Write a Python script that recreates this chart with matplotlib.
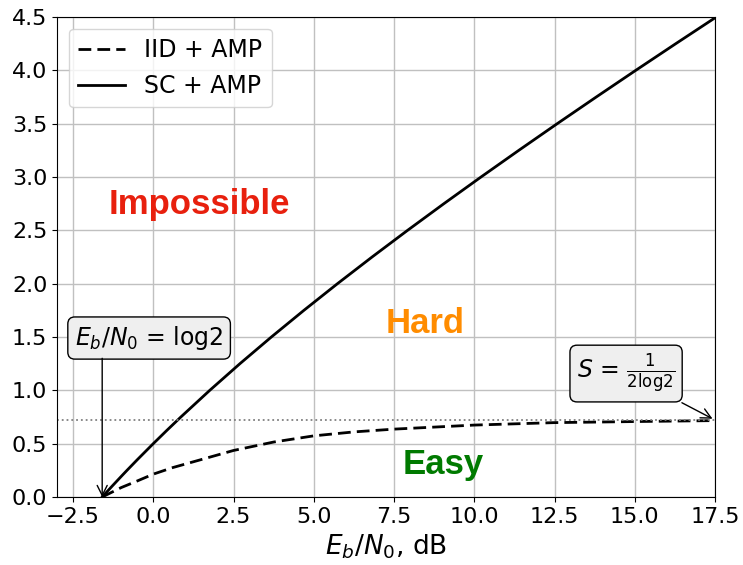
import numpy as np
import matplotlib
matplotlib.use('Agg')
import matplotlib.pyplot as plt

##############################################################################
# DATA
# SC + AMP threshold: spectral efficiency vs Eb/N0 (dB)
ebn0_sc = [-1.59, -1.562, -1.287, -0.976, -0.818, -0.496, 0.0, 0.425, 0.860,
           1.761, 2.701, 3.680, 4.694, 5.740, 6.818, 7.924, 9.056, 10.212,
           11.390, 12.587, 13.803, 15.034, 16.281, 17.542]
s_sc = [0.0, 0.01, 0.1, 0.2, 0.25, 0.35, 0.5, 0.625, 0.75,
        1.0, 1.25, 1.5, 1.75, 2.0, 2.25, 2.5, 2.75, 3.0,
        3.25, 3.5, 3.75, 4.0, 4.25, 4.5]

# IID + AMP threshold
ebn0_iid = [-1.59, -1.0, -0.5, 0.0, 0.6, 1.25, 2.5, 3.75, 5.0, 6.25, 7.5,
            10.0, 12.5, 15.0, 17.5]
s_iid = [0.0, 0.088, 0.15, 0.214, 0.275, 0.33, 0.436, 0.515, 0.573, 0.61, 0.636,
         0.674, 0.697, 0.707, 0.716]

# asymptotes
s_limit = 1/(2*np.log(2))
ebn0_limit = 10*np.log10(np.log(2))

xticks = [-2.5, 0.0, 2.5, 5.0, 7.5, 10.0, 12.5, 15.0, 17.5]
yticks = [0.0, 0.5, 1.0, 1.5, 2.0, 2.5, 3.0, 3.5, 4.0, 4.5]

##############################################################################
# PLOT
plt.rcParams.update({'font.size': 16})
fig = plt.figure(figsize=(7.43, 5.65), dpi=100)
ax = fig.add_axes([0.0767, 0.1204, 0.8856, 0.8496])
ax.set_axisbelow(True)
ax.grid(True, color='#c0c0c0', linewidth=1.0)

ax.plot(ebn0_iid, s_iid, color='k', linestyle=(0, (4.6, 2.2)), linewidth=2,
        label='IID + AMP')
ax.plot(ebn0_sc, s_sc, 'k-', linewidth=2, label='SC + AMP')
ax.axhline(s_limit, color='gray', linestyle=':', linewidth=1.3)

ax.set_xlim([-3.0, 17.5])
ax.set_ylim([0, 4.5])
ax.set_xticks(xticks)
ax.set_yticks(yticks)
ax.tick_params(axis='both', which='major', labelsize=16)
ax.set_xlabel('$E_b/N_0$, dB', fontsize=19)
ax.legend(loc='upper left', fontsize=17)

# regions
region_font = dict(family='Liberation Sans', fontweight='bold', fontsize=25,
                   ha='center', va='center')
ax.text(1.45, 2.74, 'Impossible', color='#e8200e', **region_font)
ax.text(8.46, 1.63, 'Hard', color='#ff8c00', **region_font)
ax.text(9.02, 0.30, 'Easy', color='#007a00', **region_font)

box = dict(boxstyle='round,pad=0.3', facecolor='#efefef', edgecolor='black')
ax.text(-0.13, 1.49, '$E_b/N_0$ = log2', ha='center', va='center',
        fontsize=17, bbox=box)
ax.annotate('', xy=(ebn0_limit, 0), xytext=(ebn0_limit, 1.30),
            arrowprops=dict(arrowstyle='->', color='black', shrinkA=0,
                            shrinkB=0, mutation_scale=18))
ax.annotate(r'$S$ = $\frac{1}{2\mathrm{log}2}$', xy=(17.5, s_limit),
            xytext=(14.73, 1.157), ha='center', va='center', fontsize=17,
            bbox=box,
            arrowprops=dict(arrowstyle='->', color='black', mutation_scale=18))

plt.savefig('out.png', dpi=100)
plt.close()
